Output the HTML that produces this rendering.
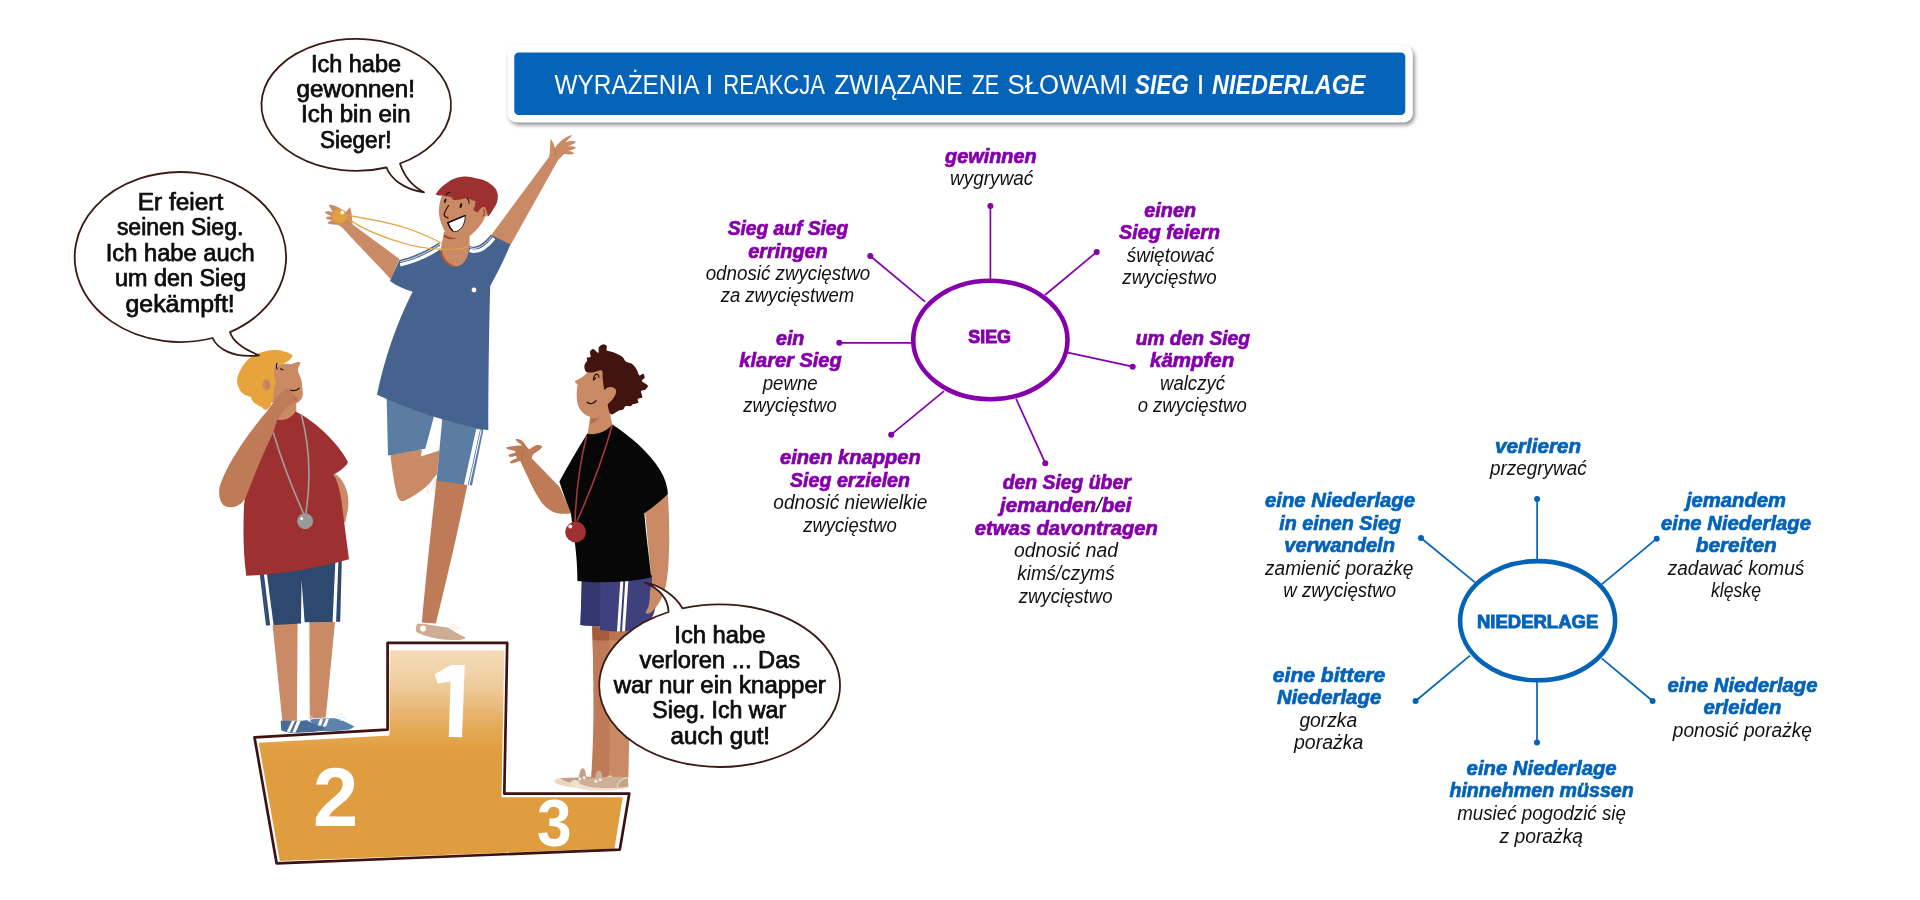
<!DOCTYPE html>
<html><head><meta charset="utf-8"><title>Sieg i Niederlage</title>
<style>
html,body{margin:0;padding:0;background:#fff;}
body{width:1920px;height:900px;overflow:hidden;font-family:"Liberation Sans",sans-serif;}
svg{display:block;position:absolute;left:0;top:0;will-change:transform;}
text{font-family:"Liberation Sans",sans-serif;}
.bi{font-weight:bold;font-style:italic;font-size:20px;}
.p{fill:#8500ab;}
.b{fill:#0463b8;}
.bi.p,.ctr.p{stroke:#8500ab;stroke-width:0.7px;}
.bi.b,.ctr.b{stroke:#0563b8;stroke-width:0.7px;}
.it{font-style:italic;font-size:20px;fill:#111;}
.bub{font-size:23px;fill:#0d0d0d;stroke:#0d0d0d;stroke-width:0.75px;}
.ttl{font-size:27px;fill:#fff;}
.ttlb{font-size:27px;fill:#fff;font-weight:bold;font-style:italic;}
.ctr{font-weight:bold;font-size:19px;}
.ctr.p,.ctr.b{stroke-width:0.95px;}
.num{font-weight:bold;fill:#fff;}
</style></head><body>
<svg width="1920" height="900" viewBox="0 0 1920 900">
<defs>
<linearGradient id="pg" x1="0" y1="648" x2="0" y2="760" gradientUnits="userSpaceOnUse">
<stop offset="0" stop-color="#f4dcb9"/><stop offset="0.196" stop-color="#f2d4ac"/><stop offset="0.375" stop-color="#eec896"/><stop offset="0.554" stop-color="#e8b773"/><stop offset="0.732" stop-color="#e4a855"/><stop offset="0.884" stop-color="#e1a044"/><stop offset="1" stop-color="#e09d40"/>
</linearGradient>
<filter id="sh" x="-5%" y="-20%" width="110%" height="150%"><feGaussianBlur stdDeviation="2"/></filter>
</defs>

<g id="banner">
<rect x="509.3" y="47.8" width="905.3" height="77.2" rx="9" fill="#000" opacity="0.45" filter="url(#sh)"/>
<rect x="507.5" y="45" width="905.3" height="77.5" rx="9" fill="#fff"/>
<rect x="514.3" y="52.5" width="891" height="62.5" rx="4.5" fill="#0563b8"/>
<text class="ttl" x="554.5" y="93.8" textLength="145.0" lengthAdjust="spacingAndGlyphs">WYRAŻENIA</text>
<text class="ttl" x="723.3" y="93.8" textLength="101.7" lengthAdjust="spacingAndGlyphs">REAKCJA</text>
<text class="ttl" x="834.2" y="93.8" textLength="128.3" lengthAdjust="spacingAndGlyphs">ZWIĄZANE</text>
<text class="ttl" x="971.7" y="93.8" textLength="27.5" lengthAdjust="spacingAndGlyphs">ZE</text>
<text class="ttl" x="1007.5" y="93.8" textLength="120.5" lengthAdjust="spacingAndGlyphs">SŁOWAMI</text>
<text class="ttl" x="705.8" y="93.8">I</text>
<text class="ttlb" x="1135.0" y="93.8" textLength="53.8" lengthAdjust="spacingAndGlyphs">SIEG</text>
<text class="ttl" x="1196.7" y="93.8">I</text>
<text class="ttlb" x="1212.0" y="93.8" textLength="153.5" lengthAdjust="spacingAndGlyphs">NIEDERLAGE</text>
</g>
<g id="sieg" stroke="#8500ab" fill="#8500ab">
<line x1="990.4" y1="206" x2="990.4" y2="279" stroke-width="1.7"/>
<circle cx="990.4" cy="206" r="3" stroke="none"/>
<line x1="1096.7" y1="252" x2="1045" y2="295" stroke-width="1.7"/>
<circle cx="1096.7" cy="252" r="3" stroke="none"/>
<line x1="1132.7" y1="366.7" x2="1068" y2="352.7" stroke-width="1.7"/>
<circle cx="1132.7" cy="366.7" r="3" stroke="none"/>
<line x1="839.3" y1="342.8" x2="912" y2="342.8" stroke-width="1.7"/>
<circle cx="839.3" cy="342.8" r="3" stroke="none"/>
<line x1="870.3" y1="256" x2="925" y2="301.7" stroke-width="1.7"/>
<circle cx="870.3" cy="256" r="3" stroke="none"/>
<line x1="891.2" y1="434.7" x2="944" y2="391.2" stroke-width="1.7"/>
<circle cx="891.2" cy="434.7" r="3" stroke="none"/>
<line x1="1045.3" y1="463.2" x2="1016" y2="398.7" stroke-width="1.7"/>
<circle cx="1045.3" cy="463.2" r="3" stroke="none"/>
<ellipse cx="990.35" cy="339.95" rx="77.15" ry="59.25" fill="#fff" stroke-width="4.6"/>
</g>
<text class="ctr p" x="968.3" y="343.2" textLength="42.7" lengthAdjust="spacingAndGlyphs">SIEG</text>
<text class="bi p" x="945.0" y="163.3" textLength="91.7" lengthAdjust="spacingAndGlyphs">gewinnen</text>
<text class="it" x="950.0" y="185.0" textLength="83.3" lengthAdjust="spacingAndGlyphs">wygrywać</text>
<text class="bi p" x="1144.3" y="216.7" textLength="51.7" lengthAdjust="spacingAndGlyphs">einen</text>
<text class="bi p" x="1119.0" y="239.0" textLength="101.0" lengthAdjust="spacingAndGlyphs">Sieg feiern</text>
<text class="it" x="1126.7" y="261.7" textLength="87.6" lengthAdjust="spacingAndGlyphs">świętować</text>
<text class="it" x="1122.3" y="284.0" textLength="94.4" lengthAdjust="spacingAndGlyphs">zwycięstwo</text>
<text class="bi p" x="727.7" y="235.0" textLength="120.6" lengthAdjust="spacingAndGlyphs">Sieg auf Sieg</text>
<text class="bi p" x="748.3" y="257.7" textLength="79.4" lengthAdjust="spacingAndGlyphs">erringen</text>
<text class="it" x="705.7" y="280.0" textLength="164.6" lengthAdjust="spacingAndGlyphs">odnosić zwycięstwo</text>
<text class="it" x="720.7" y="302.3" textLength="133.6" lengthAdjust="spacingAndGlyphs">za zwycięstwem</text>
<text class="bi p" x="776.0" y="345.0" textLength="28.3" lengthAdjust="spacingAndGlyphs">ein</text>
<text class="bi p" x="739.3" y="367.3" textLength="102.4" lengthAdjust="spacingAndGlyphs">klarer Sieg</text>
<text class="it" x="762.7" y="390.0" textLength="55.0" lengthAdjust="spacingAndGlyphs">pewne</text>
<text class="it" x="743.3" y="412.3" textLength="93.4" lengthAdjust="spacingAndGlyphs">zwycięstwo</text>
<text class="bi p" x="1135.7" y="345.0" textLength="114.3" lengthAdjust="spacingAndGlyphs">um den Sieg</text>
<text class="bi p" x="1150.0" y="367.3" textLength="84.3" lengthAdjust="spacingAndGlyphs">kämpfen</text>
<text class="it" x="1160.0" y="390.0" textLength="65.0" lengthAdjust="spacingAndGlyphs">walczyć</text>
<text class="it" x="1137.7" y="412.3" textLength="109.0" lengthAdjust="spacingAndGlyphs">o zwycięstwo</text>
<text class="bi p" x="780.0" y="464.0" textLength="140.8" lengthAdjust="spacingAndGlyphs">einen knappen</text>
<text class="bi p" x="790.0" y="486.7" textLength="120.0" lengthAdjust="spacingAndGlyphs">Sieg erzielen</text>
<text class="it" x="773.3" y="509.3" textLength="154.2" lengthAdjust="spacingAndGlyphs">odnosić niewielkie</text>
<text class="it" x="803.2" y="531.5" textLength="93.6" lengthAdjust="spacingAndGlyphs">zwycięstwo</text>
<text class="bi p" x="1002.7" y="489.3" textLength="128.0" lengthAdjust="spacingAndGlyphs">den Sieg über</text>
<text class="bi p" x="974.7" y="534.7" textLength="183.2" lengthAdjust="spacingAndGlyphs">etwas davontragen</text>
<text class="it" x="1014.0" y="557.3" textLength="104.0" lengthAdjust="spacingAndGlyphs">odnosić nad</text>
<text class="it" x="1017.3" y="580.0" textLength="97.4" lengthAdjust="spacingAndGlyphs">kimś/czymś</text>
<text class="it" x="1018.7" y="602.7" textLength="93.8" lengthAdjust="spacingAndGlyphs">zwycięstwo</text>
<text x="1000" y="512" textLength="131.5" lengthAdjust="spacingAndGlyphs" class="bi p">jemanden<tspan style="fill:#111;stroke:none;font-weight:normal">/</tspan>bei</text>
<g id="nied" stroke="#0463b8" fill="#0463b8">
<line x1="1537.1" y1="499" x2="1537.1" y2="560" stroke-width="1.7"/>
<circle cx="1537.1" cy="499" r="3" stroke="none"/>
<line x1="1656.7" y1="538.7" x2="1601.7" y2="584.3" stroke-width="1.7"/>
<circle cx="1656.7" cy="538.7" r="3" stroke="none"/>
<line x1="1652.6" y1="701" x2="1601.7" y2="658.3" stroke-width="1.7"/>
<circle cx="1652.6" cy="701" r="3" stroke="none"/>
<line x1="1537" y1="742.5" x2="1537" y2="682" stroke-width="1.7"/>
<circle cx="1537" cy="742.5" r="3" stroke="none"/>
<line x1="1415.6" y1="701" x2="1470" y2="655.7" stroke-width="1.7"/>
<circle cx="1415.6" cy="701" r="3" stroke="none"/>
<line x1="1421" y1="538" x2="1475" y2="582.3" stroke-width="1.7"/>
<circle cx="1421" cy="538" r="3" stroke="none"/>
<ellipse cx="1537.6" cy="620.7" rx="77.5" ry="59.6" fill="#fff" stroke-width="4.6"/>
</g>
<text class="ctr b" x="1476.9" y="627.9" textLength="121.4" lengthAdjust="spacingAndGlyphs">NIEDERLAGE</text>
<text class="bi b" x="1495.0" y="453.3" textLength="86.0" lengthAdjust="spacingAndGlyphs">verlieren</text>
<text class="it" x="1490.0" y="475.0" textLength="96.7" lengthAdjust="spacingAndGlyphs">przegrywać</text>
<text class="bi b" x="1265.0" y="506.7" textLength="150.0" lengthAdjust="spacingAndGlyphs">eine Niederlage</text>
<text class="bi b" x="1279.3" y="530.0" textLength="121.7" lengthAdjust="spacingAndGlyphs">in einen Sieg</text>
<text class="bi b" x="1284.3" y="552.3" textLength="110.7" lengthAdjust="spacingAndGlyphs">verwandeln</text>
<text class="it" x="1265.0" y="575.0" textLength="148.3" lengthAdjust="spacingAndGlyphs">zamienić porażkę</text>
<text class="it" x="1283.3" y="597.3" textLength="112.7" lengthAdjust="spacingAndGlyphs">w zwycięstwo</text>
<text class="bi b" x="1686.0" y="506.7" textLength="100.0" lengthAdjust="spacingAndGlyphs">jemandem</text>
<text class="bi b" x="1661.0" y="530.0" textLength="150.0" lengthAdjust="spacingAndGlyphs">eine Niederlage</text>
<text class="bi b" x="1695.7" y="552.3" textLength="81.0" lengthAdjust="spacingAndGlyphs">bereiten</text>
<text class="it" x="1667.7" y="575.0" textLength="136.6" lengthAdjust="spacingAndGlyphs">zadawać komuś</text>
<text class="it" x="1711.0" y="597.3" textLength="50.0" lengthAdjust="spacingAndGlyphs">klęskę</text>
<text class="bi b" x="1272.8" y="681.6" textLength="112.5" lengthAdjust="spacingAndGlyphs">eine bittere</text>
<text class="bi b" x="1276.9" y="704.0" textLength="104.4" lengthAdjust="spacingAndGlyphs">Niederlage</text>
<text class="it" x="1299.4" y="726.6" textLength="57.8" lengthAdjust="spacingAndGlyphs">gorzka</text>
<text class="it" x="1294.0" y="749.4" textLength="69.4" lengthAdjust="spacingAndGlyphs">porażka</text>
<text class="bi b" x="1466.6" y="775.3" textLength="150.0" lengthAdjust="spacingAndGlyphs">eine Niederlage</text>
<text class="bi b" x="1449.4" y="797.2" textLength="184.4" lengthAdjust="spacingAndGlyphs">hinnehmen müssen</text>
<text class="it" x="1457.2" y="820.3" textLength="168.7" lengthAdjust="spacingAndGlyphs">musieć pogodzić się</text>
<text class="it" x="1499.4" y="843.1" textLength="83.7" lengthAdjust="spacingAndGlyphs">z porażką</text>
<text class="bi b" x="1667.5" y="691.6" textLength="150.0" lengthAdjust="spacingAndGlyphs">eine Niederlage</text>
<text class="bi b" x="1703.4" y="714.0" textLength="77.9" lengthAdjust="spacingAndGlyphs">erleiden</text>
<text class="it" x="1672.8" y="736.9" textLength="139.1" lengthAdjust="spacingAndGlyphs">ponosić porażkę</text>
<g id="podium">
<path d="M258.7 742.8 L389.5 735.5 L389.5 650.5 L504.3 650.5 L501.5 797.3 L622.7 797.3 L614.5 848.5 L279.8 861 Z" fill="url(#pg)"/>
<path d="M254.5 737.4 L387.6 729.6 L387.6 642.8 L507.2 642.8 L504.3 793.6 L629.3 793.6 L619.8 849.6 L276.6 863.3 Z" fill="none" stroke="#3d1210" stroke-width="2.7" stroke-linejoin="round"/>
<path d="M434.7 674.3 L451 665 L464.7 665 L462 737.3 L448.7 736.9 L450.6 681.6 L437.6 683.6 Z" fill="#fff"/>
<text class="num" x="313.1" y="826.3" font-size="84" textLength="45.2" lengthAdjust="spacingAndGlyphs">2</text>
<text class="num" x="536.9" y="846.3" font-size="66" textLength="34.6" lengthAdjust="spacingAndGlyphs">3</text>
</g>
<g id="leftboy">
<path d="M272.3 622 L297.6 622 L296.9 720.5 L282.4 721.5 Z" fill="#c98a65"/>
<path d="M309.4 620 L335.2 620 L325.8 717.5 L309.8 718.5 Z" fill="#c98a65"/>
<path d="M310.1 719.8 C312.5 719.2 314.6 718.9 316.9 718.75 C323 718.3 329 718.1 335.1 718.2 C338.8 719 342.3 720.3 345.5 721.9 C348.8 723.3 351.8 724.9 354.4 726.6 C352.8 728.2 350.6 729.2 348.1 729.7 C340 730.8 332 731.2 324.7 731.25 L314 729 Z" fill="#5c82ad"/>
<path d="M280.7 720.8 L301.25 720.8 C303.4 720.4 305.5 720.2 307.5 720.3 C309 721 310.4 721.9 311.7 722.9 C315.2 724.2 318.7 725.6 322.1 727.1 C323.3 727.4 324.4 727.9 325.2 728.4 C324.4 729.4 323.3 730.2 322.1 730.7 C312 732 301 732.8 290.8 732.8 C287 732.4 283.6 731.4 281.2 730.2 Z" fill="#4a6c98"/>
<path d="M291.9 720.8 L295 720.8 L290 731.9 L286.7 731.7 Z M297 721 L300.7 721 L295.5 732.5 L292.4 732.4 Z" fill="#fff"/>
<path d="M320 719.3 L323.1 719.3 L321 725.5 L317.9 725.5 Z M326 719 L328.9 719 L326 726.6 L322.6 726.6 Z" fill="#fff"/>
<path d="M308.6 721.6 c-1 -2.6 0 -5 2 -5.6 c1.6 -0.2 2 1.4 1 2.6 M336 719 c1.6 -3.6 4 -5.8 5.6 -5 c1 1 -0.6 3.4 -3.4 5 c3.6 -2 7.4 -2.6 8.4 -1.4 c0.6 1.4 -2.6 3 -6.6 3" fill="none" stroke="#dfe7f0" stroke-width="0.8"/>
<path d="M258 560 L342 552 L340.2 621.8 L304.6 622.3 L301.6 580 L301 623.6 L266 625.6 Z" fill="#2e4970"/>
<path d="M263.4 570 L266.4 570 L273.6 625.3 L270.2 625.5 Z" fill="#fff"/>
<path d="M335.6 556 L338.6 556 L336.1 621.9 L332.6 622 Z" fill="#fff"/>
<path d="M261.4 572 L267.6 625.6" fill="none" stroke="#4a6690" stroke-width="0.5"/>
<path d="M334 473 C346 480 350.5 497 347.6 511 L345.2 522.5 L339 520 L335 480 Z" fill="#c98a65"/>
<path d="M277 398 L296.1 398 L296.4 413 L286 421.5 L276.5 421 Z" fill="#c98a65"/>
<path d="M295.6 411.6 C315 421 338 443 347.6 461.4 C348.2 462.6 347.6 463.6 346.8 464.4 C343 468.5 338.5 472 333.6 474.6 C337 480 339.8 490 341.4 500 C343.8 520 346.8 542 349 559.3 C318 568.5 280 574.5 246.3 575.8 C243.2 553 243 530 244 506 L250 450 L266 428 L277.5 419.5 C284 421.5 291 418.5 295.6 411.6 Z" fill="#9d3030"/>
<path d="M273.3 432.5 C282 462 293 490 304 514.5 M301.3 414.4 C308 440 312 475 305.7 514.5" fill="none" stroke="#a0a0a0" stroke-width="1.6"/>
<circle cx="305.1" cy="521.2" r="8" fill="#9a9a9a"/><circle cx="301.6" cy="518.6" r="1.6" fill="#f2f2f2"/>
<path d="M273.9 367.8 C276 366 280 364.6 283 364 C286 363.5 289.5 364.2 291.7 363.9 C294 363.3 296.5 362 298.9 362.1 C300.2 362.3 300.6 363.3 300 364.4 C298.8 366 297.9 368 297.8 370 C298.3 372.5 299.6 375 300.6 377.8 C301.6 380.5 302.1 383.5 302.2 386.7 C302.6 389.5 302.9 392 302.8 394.4 C302.6 397 301.8 398.8 300.6 400 C299.2 401.6 297.8 402.6 296.1 403.3 C294.8 404.3 293.2 405.2 291.7 405.6 L280 410 L270 400 L270 375 Z" fill="#c98a65"/>
<path d="M292.8 355.6 C290.5 353.6 287.6 352.4 285 351.7 C281.5 350.4 277.6 350 273.9 350 C269.6 350.2 265.4 351 261.7 352.2 C258 353.2 254.6 354.8 251.7 356.7 C248.6 358.7 246 361.4 243.9 364.4 C241.8 367 240 370 238.9 373.3 C237.8 375.5 237.2 377.8 237.2 380 C236.8 382.8 237.5 385.6 238.9 387.8 C239.6 390.3 241 392.2 242.8 393.3 C244 394.8 245.6 395.6 247.2 395.6 C248.4 396.6 249.8 396.9 251.1 396.7 C251 398.6 251.7 400.2 252.8 401.1 C253.8 403 255.4 404.2 257.2 404.4 C258.4 405.8 260 406.6 261.7 406.7 C263 408.4 264.5 409.6 266.1 410 C268 409 269.6 407.4 270.6 405.6 L273.5 398 C273.6 394 273.8 390 273.9 386.7 C275.4 385.6 276.2 384.3 276.1 382.8 C275.2 380.8 274.6 378.8 274.4 376.7 C274 373.6 273.8 370.6 273.9 367.8 C275.2 366.6 276.7 365.6 278.3 365 C279.8 364.8 281.3 364.4 282.8 363.9 C284.8 363.3 286.7 362.3 288.3 361.1 C290.2 359.6 291.7 357.7 292.8 355.6 Z" fill="#e8a33c"/>
<ellipse cx="266.6" cy="384.6" rx="4" ry="5.6" fill="#c98a65" transform="rotate(-8 266.6 384.6)"/><path d="M265.6 381.6 c2.6 0.8 3.3 4 1.4 6.4" fill="none" stroke="#b06d4a" stroke-width="0.9"/>
<path d="M277 363.4 c-1 1.8 -1 3.8 0 5.6 M280.6 368.8 l2.2 1" fill="none" stroke="#1a0d0a" stroke-width="1.15" stroke-linecap="round"/>
<path d="M290.4 390 c3.2 1.2 6.6 0.4 8.8 -1.8" fill="none" stroke="#1a0d0a" stroke-width="1.15" stroke-linecap="round"/>
<path d="M278.3 395.6 C280.5 392.6 284 390 287.2 388.9 C289 389.6 290.4 390.8 291.7 392.2 C293.8 394 295.8 395.8 297.2 397.8 C298 398.6 298.5 399.6 298.3 400.6 C297.2 401.8 295.6 402.8 293.9 403.3 C291.6 404.2 289.2 405.4 287.2 406.7 C285.5 408.3 284 410.2 282.8 412.2 C280.8 414.8 279 417.4 277.2 420 C275.8 424 274.5 428.5 273.3 432.7 C266 447 255 473 245.2 498.7 C241.5 504 237 506.8 231.8 507.3 C227 507.6 223.5 506 222 503.6 C219.2 499 218.6 493 219.6 486.5 C223.5 475 230 462 236.7 452.2 C246 437 257 423 267.2 411.1 C269 408.4 271 405.8 272.8 403.3 C274.4 400.4 276.4 397.8 278.3 395.6 Z" fill="#bf7b57"/>
<path d="M293.5 397.2 c1.2 0.8 2 1.8 2.4 3" fill="none" stroke="#a8623f" stroke-width="0.7"/>
</g>
<g id="centerboy">
<path d="M390 450 L422 450 L420.7 456.4 L439.5 450.6 L437 474 C433 480 428 485.5 422 490 C416 494.5 409 499 403.5 501 C400 502 397.5 498 396.3 492 C393.5 480 391.5 466 390 450 Z" fill="#c98a65"/>
<path d="M434.6 477 c-3.5 4 -7 10 -7.6 15.5 c1.3 1.6 3.3 -0.5 4.6 -3.5 c1.6 -3.6 3 -7.6 3.6 -11 M436 480 c-1 4 -2 8 -2.4 11.5" fill="none" stroke="#eadccb" stroke-width="0.9"/>
<path d="M436.6 479 L467.6 483.5 C461.5 515 449 570 435.8 623.6 L421.8 622.4 C425.6 580 432 520 436.6 479 Z" fill="#bf7b57"/>
<path d="M417 624 C421 623.6 426 624.2 431 625 L448.3 627.8 C452 630 458 634 465.6 637.6 C465.8 638.6 464 639.4 461.1 639.7 C454 640.2 446 639.8 438.9 638.9 C430 637.4 421 634.8 416.2 631.7 C415.8 629 416 626 417 624 Z" fill="#cfad95"/>
<ellipse cx="423" cy="628.6" rx="2.9" ry="3" fill="#fff"/>
<path d="M448.6 627.6 c1.6 -2.6 4.2 -4.2 5.6 -3.4 c0.8 1 -1 2.8 -3.6 4 c3 -1.2 6.6 -1.4 8.6 -0.6 c0.4 1 -3 1.8 -7 1.6" fill="none" stroke="#f0e6dc" stroke-width="0.8"/>
<path d="M386.6 396 L388 455.4 L425.3 448.7 L433.4 418.6 L434 410 L442.2 412 L442 421.3 L436.6 480.8 L472 485.4 L483.4 430 L484 420 Z" fill="#5b7da4"/>
<path d="M476.2 429 L480 429.6 L467.8 484.9 L464 484.4 Z M480.8 429.7 L481.8 429.9 L469.7 485.1 L468.7 485 Z" fill="#fff"/>
<path d="M340.5 225.8 C344 228 349 226.5 352.3 224.3 L399.5 259 L391 279.5 C375 262 356 243 340.5 225.8 Z" fill="#c98a65"/>
<path d="M329 204.6 C333 205 338 207 341 209 L346 212 C347.5 210 349 208.5 350 207 C351 210 351.8 214 352 218 L352.5 224.5 C349 228.5 343 229 339.5 225.5 C336 224.5 331 224.8 327.8 223.6 C327.5 222 330 220.5 333 220.5 C330.5 219.8 327.5 219.5 326 218.5 C326 216.8 329 216 332 216.3 C329.5 215.3 326.5 214.3 325 212.8 C325.5 211 329 211 333 212 C331 209.5 329 206.5 329 204.6 Z" fill="#c98a65"/>
<path d="M490.5 236 L549 157 C550.5 150 550 144 550.6 138.8 C552.5 141 554 144.5 555 148 C558 143 564 137.5 571.8 134.8 C572.3 136 568 139.5 565 142.5 C568.5 141 573 140.5 575.9 141.7 C575.5 143.5 571 145 567.5 146.5 C570.5 146 574 146.3 575.9 147.4 C575 149.2 571 150 568 150.8 C570.5 151 573 152 574.3 153.6 C572 155 567 154.5 564 154 C561.5 156.5 559.5 158.5 557.8 160.6 L510 246 Z" fill="#c98a65"/>
<path d="M554.5 148.5 c1.6 2.3 1.8 5.5 0.6 8" fill="none" stroke="#b57350" stroke-width="0.8"/>
<path d="M444 232 L469.5 232 L469.5 256 L463 266 L455 269 L446 266 L439.8 254 Z" fill="#c98a65"/>
<path d="M399.5 260 C413 257 428 250 439.5 242.3 L440.3 250 C440.6 256 443.5 262 449.5 265.6 C453.5 267.6 458.5 267.2 462.5 263.8 C466.5 260 468.8 254.5 469 247 L469 245.5 C475 249.5 484 243.5 490.6 234.8 L510.3 244.5 C504.5 259 497.5 273 490.2 286 C489 330 488.3 380 488.3 430.3 C450 423.5 410 410 377 394.8 C384 360 397 322 412.6 291.8 C404.5 289.5 396.5 285.8 390 281 Z" fill="#46628f"/>
<path d="M440.2 251 C440.8 257 444 262.6 449.5 265.8 C452 267 455 267.4 457.5 266.8 C452 266 447 262.5 444.5 258 C443 255.5 442 252.5 441.8 250 Z" fill="#a5552f"/>
<path d="M400.3 261.7 C413.8 258.7 428.8 251.7 439.9 244.1" fill="none" stroke="#fff" stroke-width="0.8"/>
<path d="M400.2 264.8 C415 261.5 430 254.5 440.2 247.3" fill="none" stroke="#fff" stroke-width="3.3"/>
<path d="M469.6 247.4 C476.1 251 485.1 245 491.7 236.3" fill="none" stroke="#fff" stroke-width="0.8"/>
<path d="M469.6 250.4 C477.9 253.4 486.9 247.4 494 238.2" fill="none" stroke="#fff" stroke-width="3.3"/>
<circle cx="474" cy="290" r="2.4" fill="#fff"/>
<path d="M346 215.2 C370 219 395 224.5 406 228 C418 232 430 237 441.5 243.2 M346.5 217.5 C360 228 385 239 410 245 C428 249.3 445 249.6 455 249 C461 248.6 466 247.5 469 246" fill="none" stroke="#e3a13c" stroke-width="1.25"/>
<circle cx="339.5" cy="216.2" r="7.3" fill="#e3a13e"/><circle cx="342.3" cy="212.5" r="1.9" fill="#f5f9fb"/>
<path d="M442.2 195 C440 200 438.8 206 438.9 212.2 C439.2 217.5 440.5 222 442.2 225.6 C443.2 229 444.8 232 446.7 234.4 C449.5 237 453 238 456.7 237.8 C461 238 465.5 237.8 468.9 236.7 C473.5 233.5 477 229.5 480 225.6 C482.5 222.5 484 219.5 485.2 216.5 C488.5 216 490 212 489 208.5 C488 205.5 485 204.5 482.5 206.5 L478 195 L455 190 Z" fill="#c98a65"/>
<path d="M444.6 234.3 C448 237.3 452.5 238.4 457.3 238 C453 240 447.5 239.6 443.9 236.8 Z" fill="#a04c2b"/>
<path d="M435.6 194.4 C438 190 442.5 185.5 447.8 182.2 C452 179 457 177.2 462.2 176.7 C466.5 176 471.5 176.8 475.6 178.3 C481.5 178.8 487 181 491.1 184.4 C495 187 497.8 191 497.8 195.6 C498.2 200.5 496.5 205.5 493.3 208.9 C491.8 212 490 214.8 487.8 216.7 C487.5 213 486.5 209.5 484.5 207 C482 206.5 479.5 208.5 478 212.5 C476.3 212 474.6 211 473.3 210 C474.5 207.5 475.4 204.5 475.6 201.1 C472.6 200.6 469.5 199.4 466.7 197.8 C462.5 199.4 457.5 200.3 453.3 200 C452.3 199 451.5 197.8 451.1 196.7 C448 196.8 445 196.2 442.2 195.6 C440 195.6 437.5 195.2 435.6 194.4 Z" fill="#9d3030"/>
<path d="M483.3 209.3 c1.5 2 1.4 4.8 -0.3 7" fill="none" stroke="#7a3a20" stroke-width="1"/>
<ellipse cx="445.2" cy="200.8" rx="1" ry="2.3" fill="#1a0d0a" transform="rotate(18 445.2 200.8)"/>
<ellipse cx="460.9" cy="205.6" rx="1.1" ry="2.6" fill="#1a0d0a" transform="rotate(18 460.9 205.6)"/>
<path d="M446.3 194.6 c0.8 -1.3 2 -2.1 3.4 -2.2 M466.8 198 c1.6 1.2 2.4 3.2 2.3 5.3" fill="none" stroke="#2a0f0c" stroke-width="1.1" stroke-linecap="round"/>
<path d="M448.5 205.5 C446.5 208.5 444.8 211.5 443.9 214.6 C444.8 216.5 446.3 217.6 448 218" fill="none" stroke="#3a1410" stroke-width="1.3" stroke-linecap="round"/>
<path d="M447.8 222.6 L465.2 215.4 C465.4 219 464.6 222.3 463.2 225.3 C461.5 228.3 459 230.6 456.3 231.5 C454.8 231.8 453.6 231.6 452.8 231 C450.5 228.8 448.8 225.8 447.8 222.6 Z" fill="#fff" stroke="#2a0f0c" stroke-width="0.9" stroke-linejoin="round"/>
<path d="M465 215.6 L447.8 222.7 C448.8 225.8 450.4 228.7 452.6 230.8" fill="none" stroke="#1f0b09" stroke-width="1.5" stroke-linecap="round" stroke-linejoin="round"/>
</g>
<g id="rightboy">
<path d="M592 620 L632 622 C630.5 680 629.5 730 628.3 779 L594 779 C595 730 593.8 680 592 620 Z" fill="#c98a65"/>
<path d="M592 620 L609.3 621 C609.8 680 609.6 730 609.1 779 L591 779 C594.5 730 593.8 680 592 620 Z" fill="#bf7b57"/>
<path d="M592.3 626 L609.2 630 L609.4 640 C603 641 597 640.6 592.8 639.4 Z" fill="#a65c3a"/>
<path d="M609.2 630 L632 630 L631.6 637 C624 640.5 615 641 609.4 640 Z" fill="#b87550"/>
<path d="M554.2 781.8 C554.4 779.2 557 778 560.2 778.2 C566 777.8 573 777.6 579 777.4 L590 777.2 L590 786 L575 787.5 C566 787 557 785 554.2 781.8 Z" fill="#e9d7c2"/>
<path d="M560 778.3 C566 777.8 573 777.6 579 777.4 C579.4 773 580.6 768.6 582.8 768.3 C585.2 768.4 585.8 772.5 586 776.5 L591 776.8 L591 785 C580 785.2 566 783 560 778.3 Z" fill="#c3a085"/>
<path d="M570.3 783.4 C570.6 781 573 779.6 576 780.2 C584 782 594 781 603 778.6 C611 777.3 620 777 627.8 777.5 L628.4 787.4 C620 790.2 606 791.2 594 790.6 C583 790 573.5 787.5 570.3 783.4 Z" fill="#efe2d3"/>
<path d="M578.3 782.4 C580 780.5 582 779.5 584 779 C588 778.2 592 777.6 595.3 777.4 C595.6 773.5 596.8 770.5 598.9 770.4 C601.3 770.6 602 774 602.4 777.3 C610 776.6 620 776.8 627.8 777.5 L628.3 786.6 C618 788.2 606 788.4 597 787.8 C588 787 582 785 578.3 782.4 Z" fill="#ceaf97"/>
<path d="M617.3 787 C617.6 782.5 621.5 778.6 627.8 777.8 L628.3 786.6 C625 787.3 621 787.4 617.3 787 Z" fill="#c4a387"/>
<path d="M617.4 787 C617.6 782.5 621.5 778.6 627.8 777.8" fill="none" stroke="#f4ebe1" stroke-width="0.9"/>
<path d="M607 776.6 c1.6 -1.2 4 -1.3 5.2 -0.3 l-0.6 1 z" fill="#e6d6c6"/>
<circle cx="579.9" cy="779" r="1.4" fill="#f7efe2"/><circle cx="584.1" cy="777.7" r="1.5" fill="#f7efe2"/><circle cx="595.8" cy="781.3" r="1.5" fill="#f7efe2"/><circle cx="600.2" cy="779.7" r="1.5" fill="#f7efe2"/>
<path d="M645 512 L667.8 494 C669.5 520 669.8 545 668.5 562 C668 572 667 580 666 585 C664.5 592 662.5 597 660 601 C657.5 605 655 608.5 652.5 611 C650.5 613 648 614 645.6 613.4 C645 612.5 646.5 610.5 648 607.5 C649.5 604 650 598 649.6 593 C649.4 589 650.2 584 651.5 580 Z" fill="#c98a65"/>
<path d="M581.8 578 L652.2 575 C653.5 586 655 598 655.3 608 C654.5 612 653.5 615 652 617.5 L640 628 C634 630.5 626 631.6 618 631.6 C612 631.4 605 630.8 600 630 L600 626.2 C593 626.2 586 625.6 580.4 625 C581 610 581.5 594 581.8 578 Z" fill="#3f417f"/>
<path d="M582 578 L600.2 578 C600.3 594 600.2 610 600 626.2 C593 626.2 586 625.6 580.4 625 C581 610 581.5 594 582 578 Z" fill="#34366f"/>
<path d="M620.5 578 L623.5 578 L620 631.6 L617 631.6 Z M625.5 578 L628.5 578 L625 631.3 L622 631.5 Z" fill="#fff"/>
<path d="M652.2 577 C652 583 650.5 588 650 592 C649.6 597 649.8 602 648.6 606 C647.6 609 646 611.5 645.4 613 C647 614.4 650 613.6 652.6 611 C656 607.5 659 603 661 598.5 C663 594 664.5 589 665.8 584 L668 566 L655 566 Z" fill="#c98a65"/>
<path d="M531.7 458.3 L559.6 487 L571.5 513 C565 514.6 558 513.8 552.8 511.7 C548.5 509.5 545 506.5 541.7 502.8 C536.5 495 532 486.5 528.3 478.3 C525.5 472.5 523 467 520.6 461.7 Z" fill="#bf7b57"/>
<path d="M531.7 458.3 C532.3 457.1 532.1 456.0 532.8 455.0 C533.5 454.0 534.9 453.0 536.0 452.2 C537.1 451.4 538.4 450.8 539.4 450.0 C540.4 449.2 541.6 447.9 541.9 447.2 C542.2 446.5 541.8 446.0 541.0 445.6 C540.2 445.2 538.6 444.8 537.2 445.0 C535.8 445.2 534.1 446.4 532.8 447.0 C531.5 447.6 530.3 448.9 529.4 448.9 C528.5 448.9 528.0 448.1 527.2 447.2 C526.4 446.3 525.4 444.6 524.5 443.5 C523.6 442.4 522.7 441.3 521.7 440.6 C520.7 439.9 519.5 439.4 518.5 439.2 C517.5 439.0 515.8 439.0 515.6 439.4 C515.4 439.8 516.5 441.0 517.2 441.7 C517.9 442.4 519.0 443.0 519.8 443.6 C520.5 444.2 521.8 445.3 521.7 445.6 C521.6 445.9 520.9 445.5 519.4 445.6 C517.9 445.7 515.1 445.9 513.0 446.2 C510.9 446.5 507.7 446.9 506.7 447.3 C505.7 447.7 506.3 448.4 506.9 448.8 C507.5 449.2 509.1 449.6 510.5 450.0 C511.9 450.4 514.2 450.6 515.0 451.1 C515.8 451.6 515.6 452.4 515.0 452.8 C514.4 453.2 512.5 453.4 511.5 453.8 C510.4 454.2 509.0 454.5 508.7 455.0 C508.4 455.5 509.0 456.5 509.6 456.8 C510.2 457.1 511.6 456.9 512.6 456.8 C513.6 456.7 514.9 455.9 515.6 456.1 C516.3 456.4 517.0 457.8 516.7 458.3 C516.4 458.9 514.7 458.8 513.6 459.4 C512.5 459.9 510.8 461.0 510.3 461.6 C509.8 462.2 510.2 463.1 510.8 463.3 C511.4 463.5 512.5 463.3 514.0 462.9 C515.5 462.5 518.9 461.3 520.0 461.1 C521.1 460.9 519.8 461.2 520.6 461.7 C521.4 462.2 523.6 463.9 525.0 464.0 C526.4 464.1 527.9 462.9 529.0 462.0 C530.1 461.1 531.1 459.5 531.7 458.3 Z" fill="#bf7b57"/>
<path d="M523.6 450.2 c-1.8 2.2 -2.2 5.2 -1 8" fill="none" stroke="#a66642" stroke-width="0.8"/>
<path d="M590 408 L609 404 C609.6 411 610.6 417 611.9 423 L613 428 L598 437 L587.5 434 C588.6 428 589.4 423 590 418.3 Z" fill="#c98a65"/>
<path d="M590 418.3 C593.5 418.4 597 418.2 600 417.7 C597 420.5 593.5 422.5 590.4 423.9 Z" fill="#b5714c"/>
<path d="M587.2 433.8 C596 435.5 606 432 612.4 424.5 C630 436 649 452 660 470 C665 478 667.5 486 667.9 494 C660 501.5 652 508 644.3 513.3 C646 535 649 557 651.3 577.5 C626 582.5 600 583.5 577.4 581 C577.5 558 574 534 570.6 512 C566.5 502 562.5 491.5 559.4 481.4 C568 466 577.5 449 587.2 433.8 Z" fill="#070707"/>
<path d="M586.6 436 C580 462 576 495 575 521.5 M612.3 425 C604 455 590 492 577 521.5" fill="none" stroke="#a63838" stroke-width="1.6"/>
<circle cx="575.6" cy="532" r="10.4" fill="#9f3031"/><circle cx="570.3" cy="526.6" r="2" fill="#f4e6e6"/>
<path d="M587.8 371.8 C586.4 373.4 585.2 374.8 583.9 376.1 C581 378 578 379.6 575 381.1 C575 382.2 575.4 383 576.1 383.3 C576.6 383.8 577.2 384.2 577.8 384.4 C577 387 576.7 390 576.7 392.8 C576.6 396 576.8 399 577.2 401.7 C577.6 404.2 578.4 406.4 579.4 408.3 C580.6 410.6 582.4 412.4 584.4 413.9 C586.6 415.6 589.4 416.8 592.2 417.2 C594.4 417.4 596.8 417.2 598.9 416.7 C601.8 415.6 604.4 413.8 606.7 411.7 L612 405 L616 385 L604 368 Z" fill="#c98a65"/>
<path d="M586.1 371.7 C584.6 370.6 584.2 367.5 584.4 365.6 C584.6 363.8 586.8 361.9 587.2 360.6 C587.6 359.3 586.1 358.5 586.7 357.8 C587.3 357.1 590.1 357.7 590.6 356.7 C591.1 355.7 589.5 353.0 590.0 351.7 C590.5 350.4 591.9 348.7 593.3 348.9 C594.7 349.1 597.4 353.1 598.3 352.8 C599.2 352.5 598.1 348.6 598.9 347.2 C599.6 345.8 601.5 344.6 602.8 344.4 C604.1 344.2 606.0 345.1 606.7 346.1 C607.4 347.1 605.8 349.4 606.9 350.4 C608.0 351.4 610.8 351.1 613.3 352.2 C615.8 353.2 620.1 355.1 622.2 356.7 C624.3 358.2 624.1 360.3 625.8 361.5 C627.5 362.7 630.4 362.6 632.2 363.9 C634.0 365.2 635.5 367.5 636.7 369.4 C637.9 371.3 638.3 374.6 639.4 375.4 C640.5 376.1 642.4 373.5 643.3 373.9 C644.2 374.3 644.8 376.6 644.6 377.8 C644.4 379.0 641.4 379.8 641.9 381.1 C642.4 382.4 647.2 384.2 647.8 385.6 C648.4 387.0 646.7 388.5 645.6 389.4 C644.5 390.3 641.7 389.8 641.1 391.1 C640.5 392.4 642.8 395.9 642.2 397.2 C641.7 398.5 638.4 398.0 637.8 398.9 C637.1 399.8 639.2 401.9 638.3 402.8 C637.4 403.7 633.4 403.8 632.2 404.4 C631.0 404.9 632.2 405.8 631.1 406.1 C630.0 406.4 626.9 405.6 625.6 406.1 C624.3 406.7 624.4 408.6 623.3 409.4 C622.2 410.1 620.9 409.8 618.9 410.6 C616.9 411.4 613.0 415.1 611.1 414.4 C609.2 413.6 608.2 408.2 607.8 406.1 C607.4 404.0 608.4 403.4 608.9 401.7 C609.4 400.0 611.1 397.9 611.0 396.0 C610.9 394.1 609.1 391.1 608.0 390.0 C606.9 388.9 605.3 391.2 604.4 389.4 C603.5 387.6 603.2 382.5 602.8 379.4 C602.3 376.3 603.3 371.8 601.7 370.6 C600.1 369.4 595.9 372.0 593.3 372.2 C590.7 372.4 587.6 372.8 586.1 371.7 Z" fill="#42140f"/>
<path d="M604.3 390.8 C605.6 388 608.8 386.4 612.2 387.2 C615 388 616.6 389.8 616.1 391.7 C615.8 394.2 614.8 396.4 613.3 398.3 C611.8 400.6 609.8 402.4 607.8 403.9 L605 401 Z" fill="#c98a65"/>
<path d="M593.4 379.6 C593.6 376 595.6 373.6 597.4 374.2 C598.6 374.8 599 376 598.9 377.4 M593.5 380.2 L595.8 377.8" fill="none" stroke="#1a0d0a" stroke-width="1.1" stroke-linecap="round"/>
<path d="M587.2 402.2 C590 404.6 594 403.8 596.1 400.6" fill="none" stroke="#1a0d0a" stroke-width="1.15" stroke-linecap="round"/>
</g>
<g id="bubbles">
<path d="M400.0 163.5 A94.8 66 0 1 0 386.5 167.5 C390.5 178 403 189.5 424 192.3 C412 186 404 176 400.0 163.5 Z" fill="#fff" stroke="#3a1a16" stroke-width="1.8" stroke-linejoin="round"/>
<text class="bub" x="311.0" y="72.0" textLength="90.0" lengthAdjust="spacingAndGlyphs">Ich habe</text>
<text class="bub" x="296.6" y="97.0" textLength="118.4" lengthAdjust="spacingAndGlyphs">gewonnen!</text>
<text class="bub" x="301.0" y="122.4" textLength="109.6" lengthAdjust="spacingAndGlyphs">Ich bin ein</text>
<text class="bub" x="320.0" y="148.0" textLength="71.4" lengthAdjust="spacingAndGlyphs">Sieger!</text>
<path d="M230.0 332.1 A105.7 85 0 1 0 212.6 338.0 C217 348 232 358.5 259 355.3 C248 351 233.5 344 230.0 332.1 Z" fill="#fff" stroke="#3a1a16" stroke-width="1.8" stroke-linejoin="round"/>
<text class="bub" x="137.7" y="210.1" textLength="85.5" lengthAdjust="spacingAndGlyphs">Er feiert</text>
<text class="bub" x="116.9" y="235.3" textLength="126.4" lengthAdjust="spacingAndGlyphs">seinen Sieg.</text>
<text class="bub" x="105.7" y="260.7" textLength="149.1" lengthAdjust="spacingAndGlyphs">Ich habe auch</text>
<text class="bub" x="115.0" y="286.1" textLength="131.2" lengthAdjust="spacingAndGlyphs">um den Sieg</text>
<text class="bub" x="125.5" y="311.5" textLength="109.2" lengthAdjust="spacingAndGlyphs">gekämpft!</text>
<path d="M682.5 608.3 A120.4 81.3 0 1 1 668.6 612.0 C668 600 661 589.5 645 582.7 C661 585.5 675.5 596 682.5 608.3 Z" fill="#fff" stroke="#3a1a16" stroke-width="1.8" stroke-linejoin="round"/>
<text class="bub" x="674.3" y="642.6" textLength="91.2" lengthAdjust="spacingAndGlyphs">Ich habe</text>
<text class="bub" x="639.6" y="667.8" textLength="160.6" lengthAdjust="spacingAndGlyphs">verloren ... Das</text>
<text class="bub" x="613.7" y="692.9" textLength="212.1" lengthAdjust="spacingAndGlyphs">war nur ein knapper</text>
<text class="bub" x="652.3" y="718.3" textLength="133.9" lengthAdjust="spacingAndGlyphs">Sieg. Ich war</text>
<text class="bub" x="670.6" y="744.0" textLength="99.5" lengthAdjust="spacingAndGlyphs">auch gut!</text>
</g>
<!--ILLUSTRATION-->
</svg></body></html>
